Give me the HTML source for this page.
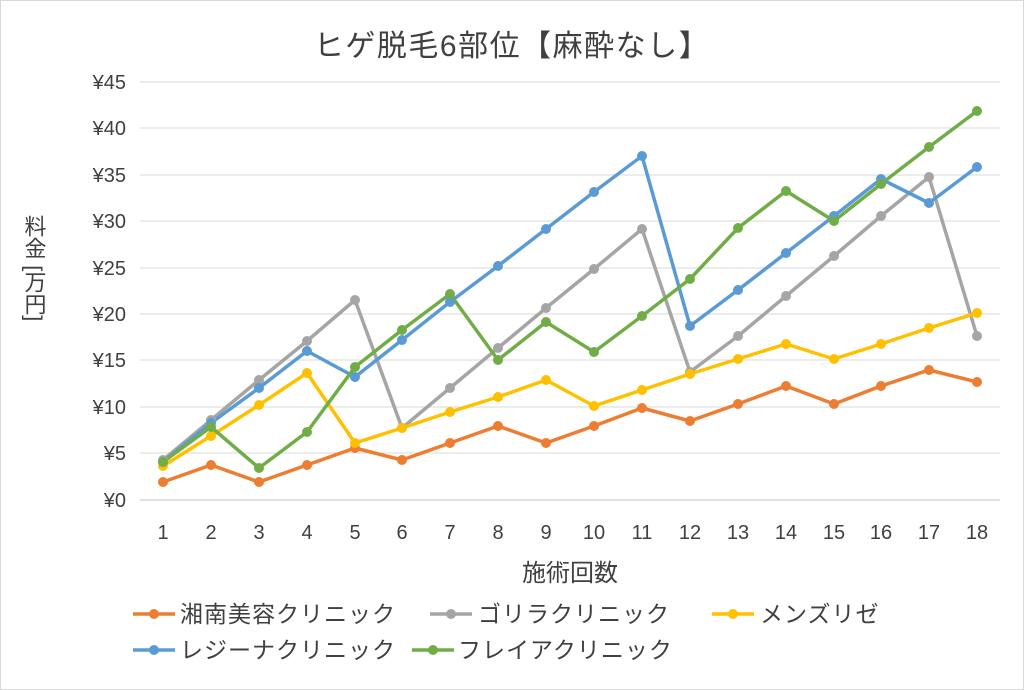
<!DOCTYPE html><html><head><meta charset="utf-8"><style>body{margin:0;background:#fff}svg{display:block;font-family:"Liberation Sans","Noto Sans CJK JP",sans-serif}</style></head><body>
<svg width="1024" height="690" xmlns="http://www.w3.org/2000/svg">
<rect x="0.5" y="0.5" width="1023" height="689" fill="#fff" stroke="#d9d9d9"/>
<text x="512" y="56" font-size="30" letter-spacing="1.5" text-anchor="middle" fill="#404040">ヒゲ脱毛6部位【麻酔なし】</text>
<g stroke="#d9d9d9" stroke-width="1">
<line x1="140" x2="1000" y1="82" y2="82"/><line x1="140" x2="1000" y1="128" y2="128"/><line x1="140" x2="1000" y1="175" y2="175"/><line x1="140" x2="1000" y1="221" y2="221"/><line x1="140" x2="1000" y1="268" y2="268"/><line x1="140" x2="1000" y1="314" y2="314"/><line x1="140" x2="1000" y1="360" y2="360"/><line x1="140" x2="1000" y1="407" y2="407"/><line x1="140" x2="1000" y1="453" y2="453"/></g>
<line x1="140" x2="1000" y1="500" y2="500" stroke="#bfbfbf"/>
<g font-size="20" fill="#404040" text-anchor="end">
<text x="126" y="89">¥45</text><text x="126" y="135">¥40</text><text x="126" y="182">¥35</text><text x="126" y="228">¥30</text><text x="126" y="275">¥25</text><text x="126" y="321">¥20</text><text x="126" y="367">¥15</text><text x="126" y="414">¥10</text><text x="126" y="460">¥5</text><text x="126" y="507">¥0</text></g>
<g font-size="20" fill="#404040" text-anchor="middle">
<text x="163" y="539">1</text><text x="211" y="539">2</text><text x="259" y="539">3</text><text x="307" y="539">4</text><text x="355" y="539">5</text><text x="402" y="539">6</text><text x="450" y="539">7</text><text x="498" y="539">8</text><text x="546" y="539">9</text><text x="594" y="539">10</text><text x="642" y="539">11</text><text x="690" y="539">12</text><text x="738" y="539">13</text><text x="786" y="539">14</text><text x="834" y="539">15</text><text x="881" y="539">16</text><text x="929" y="539">17</text><text x="977" y="539">18</text>
<text x="570" y="581" font-size="24">施術回数</text></g>
<text x="34" y="215" font-size="22" fill="#404040" style="writing-mode:vertical-rl">料金 [万円]</text>
<g fill="none" stroke-width="3.5" stroke-linejoin="round">
<polyline stroke="#a5a5a5" points="163,460 211,420 259,380 307,341 355,300 402,428 450,388 498,348 546,308 594,269 642,229 690,372 738,336 786,296 834,256 881,216 929,177 977,336"/>
<polyline stroke="#ed7d31" points="163,482 211,465 259,482 307,465 355,448 402,460 450,443 498,426 546,443 594,426 642,408 690,421 738,404 786,386 834,404 881,386 929,370 977,382"/>
<polyline stroke="#ffc000" points="163,466 211,436 259,405 307,373 355,443 402,428 450,412 498,397 546,380 594,406 642,390 690,374 738,359 786,344 834,359 881,344 929,328 977,313"/>
<polyline stroke="#5b9bd5" points="163,462 211,423 259,388 307,351 355,377 402,340 450,302 498,266 546,229 594,192 642,156 690,326 738,290 786,253 834,216 881,179 929,203 977,167"/>
<polyline stroke="#70ad47" points="163,462 211,427 259,468 307,432 355,367 402,330 450,294 498,360 546,322 594,352 642,316 690,279 738,228 786,191 834,221 881,184 929,147 977,111"/>
</g>
<g>
<g fill="#a5a5a5"><circle cx="163" cy="460" r="5"/><circle cx="211" cy="420" r="5"/><circle cx="259" cy="380" r="5"/><circle cx="307" cy="341" r="5"/><circle cx="355" cy="300" r="5"/><circle cx="402" cy="428" r="5"/><circle cx="450" cy="388" r="5"/><circle cx="498" cy="348" r="5"/><circle cx="546" cy="308" r="5"/><circle cx="594" cy="269" r="5"/><circle cx="642" cy="229" r="5"/><circle cx="690" cy="372" r="5"/><circle cx="738" cy="336" r="5"/><circle cx="786" cy="296" r="5"/><circle cx="834" cy="256" r="5"/><circle cx="881" cy="216" r="5"/><circle cx="929" cy="177" r="5"/><circle cx="977" cy="336" r="5"/></g>
<g fill="#ed7d31"><circle cx="163" cy="482" r="5"/><circle cx="211" cy="465" r="5"/><circle cx="259" cy="482" r="5"/><circle cx="307" cy="465" r="5"/><circle cx="355" cy="448" r="5"/><circle cx="402" cy="460" r="5"/><circle cx="450" cy="443" r="5"/><circle cx="498" cy="426" r="5"/><circle cx="546" cy="443" r="5"/><circle cx="594" cy="426" r="5"/><circle cx="642" cy="408" r="5"/><circle cx="690" cy="421" r="5"/><circle cx="738" cy="404" r="5"/><circle cx="786" cy="386" r="5"/><circle cx="834" cy="404" r="5"/><circle cx="881" cy="386" r="5"/><circle cx="929" cy="370" r="5"/><circle cx="977" cy="382" r="5"/></g>
<g fill="#ffc000"><circle cx="163" cy="466" r="5"/><circle cx="211" cy="436" r="5"/><circle cx="259" cy="405" r="5"/><circle cx="307" cy="373" r="5"/><circle cx="355" cy="443" r="5"/><circle cx="402" cy="428" r="5"/><circle cx="450" cy="412" r="5"/><circle cx="498" cy="397" r="5"/><circle cx="546" cy="380" r="5"/><circle cx="594" cy="406" r="5"/><circle cx="642" cy="390" r="5"/><circle cx="690" cy="374" r="5"/><circle cx="738" cy="359" r="5"/><circle cx="786" cy="344" r="5"/><circle cx="834" cy="359" r="5"/><circle cx="881" cy="344" r="5"/><circle cx="929" cy="328" r="5"/><circle cx="977" cy="313" r="5"/></g>
<g fill="#5b9bd5"><circle cx="163" cy="462" r="5"/><circle cx="211" cy="423" r="5"/><circle cx="259" cy="388" r="5"/><circle cx="307" cy="351" r="5"/><circle cx="355" cy="377" r="5"/><circle cx="402" cy="340" r="5"/><circle cx="450" cy="302" r="5"/><circle cx="498" cy="266" r="5"/><circle cx="546" cy="229" r="5"/><circle cx="594" cy="192" r="5"/><circle cx="642" cy="156" r="5"/><circle cx="690" cy="326" r="5"/><circle cx="738" cy="290" r="5"/><circle cx="786" cy="253" r="5"/><circle cx="834" cy="216" r="5"/><circle cx="881" cy="179" r="5"/><circle cx="929" cy="203" r="5"/><circle cx="977" cy="167" r="5"/></g>
<g fill="#70ad47"><circle cx="163" cy="462" r="5"/><circle cx="211" cy="427" r="5"/><circle cx="259" cy="468" r="5"/><circle cx="307" cy="432" r="5"/><circle cx="355" cy="367" r="5"/><circle cx="402" cy="330" r="5"/><circle cx="450" cy="294" r="5"/><circle cx="498" cy="360" r="5"/><circle cx="546" cy="322" r="5"/><circle cx="594" cy="352" r="5"/><circle cx="642" cy="316" r="5"/><circle cx="690" cy="279" r="5"/><circle cx="738" cy="228" r="5"/><circle cx="786" cy="191" r="5"/><circle cx="834" cy="221" r="5"/><circle cx="881" cy="184" r="5"/><circle cx="929" cy="147" r="5"/><circle cx="977" cy="111" r="5"/></g>
</g>
<g stroke-width="3.5">
<line x1="133" x2="175" y1="614" y2="614" stroke="#ed7d31"/><circle cx="154" cy="614" r="5" fill="#ed7d31"/>
<line x1="430" x2="472" y1="614" y2="614" stroke="#a5a5a5"/><circle cx="451" cy="614" r="5" fill="#a5a5a5"/>
<line x1="712" x2="754" y1="614" y2="614" stroke="#ffc000"/><circle cx="733" cy="614" r="5" fill="#ffc000"/>
<line x1="133" x2="175" y1="650" y2="650" stroke="#5b9bd5"/><circle cx="154" cy="650" r="5" fill="#5b9bd5"/>
<line x1="412" x2="454" y1="650" y2="650" stroke="#70ad47"/><circle cx="433" cy="650" r="5" fill="#70ad47"/>
</g>
<g font-size="23" letter-spacing="1" fill="#404040">
<text x="180" y="622">湘南美容クリニック</text><text x="478" y="622">ゴリラクリニック</text><text x="760" y="622">メンズリゼ</text>
<text x="180" y="658">レジーナクリニック</text><text x="458" y="658">フレイアクリニック</text></g>
</svg></body></html>
